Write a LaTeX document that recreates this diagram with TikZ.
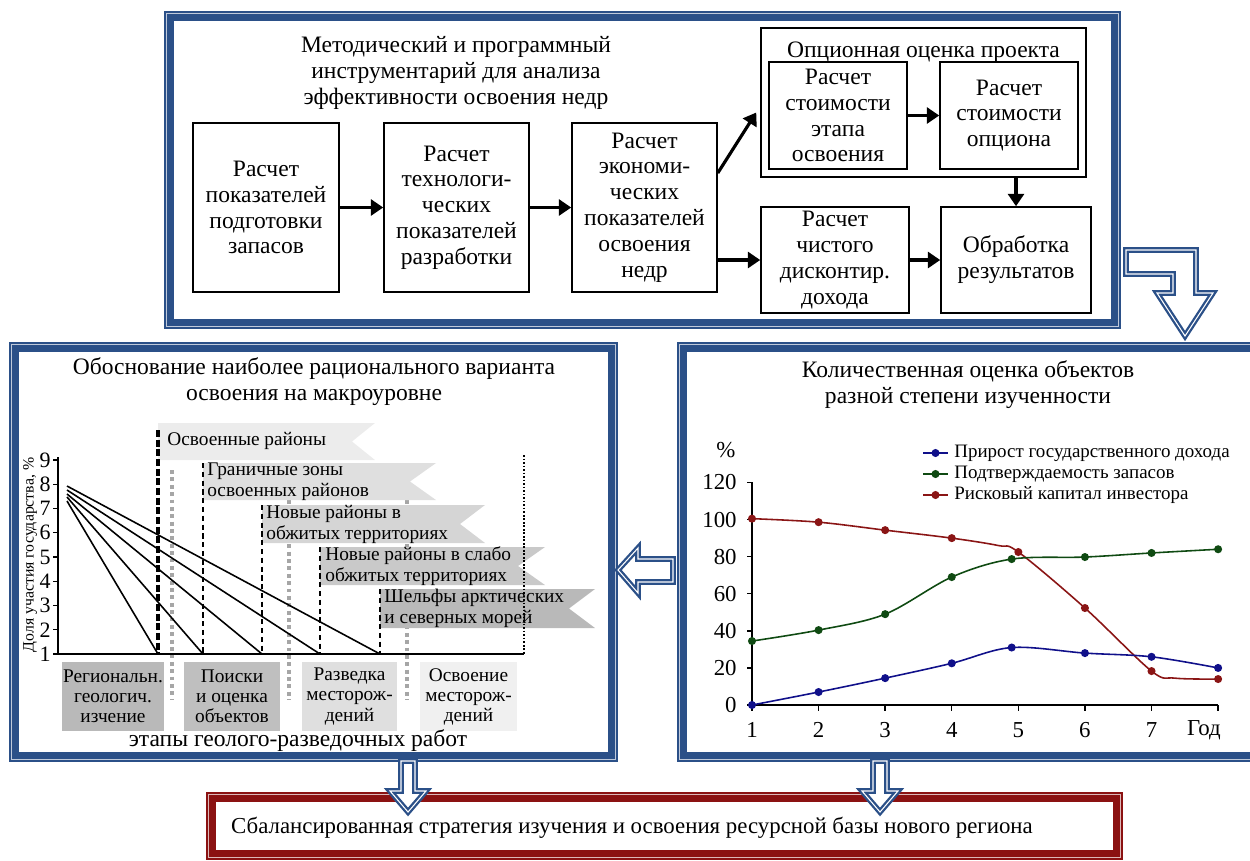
\documentclass[tikz,border=0pt]{standalone}
\usepackage{fontspec}
\setmainfont{Liberation Serif}
\usetikzlibrary{arrows.meta,positioning}
\definecolor{frblue}{HTML}{2B5088}
\definecolor{frred}{HTML}{8B1212}
\definecolor{curblue}{HTML}{10108A}
\definecolor{curgreen}{HTML}{0F4A12}
\definecolor{curred}{HTML}{8A1515}
\tikzset{%
    txt/.style={font=\fontsize{13.4}{14.7}\selectfont, align=center},
    block/.style={%
        rectangle,
        draw,
        line width=0.9pt,
        inner sep=0pt,
        txt
    },
    flow/.style={line width=1.8pt, -{Triangle[length=7pt,width=9pt]}},
    barrow/.style={draw=frblue, fill=white, line width=1.3pt, double=white, double distance=0.6pt},
    flagtext/.style={font=\fontsize{11}{12}\selectfont, align=left, anchor=west, inner sep=0pt},
    stage/.style={%
        font=\fontsize{11}{11.4}\selectfont,
        align=center,
        inner sep=0pt,
        minimum height=1.38cm
    },
    axnum/.style={font=\fontsize{13}{14}\selectfont, inner sep=0pt},
    legtext/.style={font=\fontsize{10.8}{12}\selectfont, anchor=west, inner sep=0pt}
}
\newcommand\panelframe[3]{%
    \draw[#1!30, line width=5pt] ([shift={(4,4)}]#2) rectangle ([shift={(-4,-4)}]#3);
    \draw[#1, line width=0.6pt] (#2) rectangle (#3);
    \draw[#1, line width=2.4pt] ([shift={(4.5,4.5)}]#2) rectangle ([shift={(-4.5,-4.5)}]#3);
    \draw[#1, line width=0.6pt] ([shift={(8,8)}]#2) rectangle ([shift={(-8,-8)}]#3);
}
\begin{document}
\begin{tikzpicture}[x=0.02cm, y=-0.02cm]
\useasboundingbox (0,0) rectangle (1250,860);

% frames
\panelframe{frblue}{165,12}{1120,328}
\panelframe{frblue}{10,343}{617,761}
\panelframe{frblue}{678,343}{1264,761}
\panelframe{frred}{207,793}{1122,859}

% top panel
\node[txt] (ttl) at (456,73) {Методический и программный\\инструментарий для анализа\\эффективности освоения недр};
\node[block, minimum width=2.92cm, minimum height=3.38cm] (calcA) at (266,207.5) {Расчет\\показателей\\подготовки\\запасов};
\node[block, minimum width=2.9cm, minimum height=3.38cm] (calcB) at (456.5,207.5) {Расчет\\технологи-\\ческих\\показателей\\разработки};
\node[block, minimum width=2.9cm, minimum height=3.38cm] (calcC) at (644.5,207.5) {Расчет\\экономи-\\ческих\\показателей\\освоения\\недр};
\node[block, minimum width=6.5cm, minimum height=2.98cm] (opt) at (923.5,102.5) {};
\node[txt, anchor=north, yshift=-0.16cm] (optttl) at (opt.north) {Опционная оценка проекта};
\node[block, minimum width=2.76cm, minimum height=2.14cm] (stage) at (838,115.5) {Расчет\\стоимости\\этапа\\освоения};
\node[block, minimum width=2.76cm, minimum height=2.14cm] (option) at (1009,115.5) {Расчет\\стоимости\\опциона};
\node[block, minimum width=2.96cm, minimum height=2.12cm] (npv) at (835,260) {Расчет\\чистого\\дисконтир.\\дохода};
\node[block, minimum width=3.0cm, minimum height=2.12cm] (res) at (1016,260) {Обработка\\результатов};

\draw[flow] (calcA) -- (calcB);
\draw[flow] (calcB) -- (calcC);
\draw[flow] ([yshift=0.69cm]calcC.east) -- ([yshift=-0.2cm,xshift=-0.08cm]opt.west);
\draw[flow] (calcC.east |- npv.west) -- (npv.west);
\draw[flow] (stage) -- (option);
\draw[flow] (res.north |- opt.south) -- (res.north);
\draw[flow] (npv) -- (res);

% block arrows
\draw[barrow] (1126,250) -- (1196,250) -- (1196,293) -- (1213,293) -- (1185,336) -- (1157,293) -- (1173,293) -- (1173,274) -- (1126,274) -- cycle;
\draw[barrow] (618,570) -- (638,548) -- (638,559) -- (673,559) -- (673,582) -- (638,582) -- (638,593) -- cycle;

% left panel
\node[txt] (ltitle) at (314,382) {Обоснование наиболее рационального варианта\\освоения на макроуровне};

% gray separators
\foreach \x/\y in {172/470, 289/500, 407/500}
    \draw[gray!70, line width=2.2pt, dash pattern=on 2.2pt off 2pt] (\x,\y) -- (\x,700);

% flags
\fill[gray!15] (158,423) -- (375,423) -- (352,441.5) -- (375,460) -- (158,460) -- cycle;
\node[flagtext] (flagA) at (167,441) {Освоенные районы};
\fill[gray!25] (203,463) -- (436,463) -- (410,481.5) -- (436,500) -- (203,500) -- cycle;
\node[flagtext] (flagB) at (207,482) {Граничные зоны\\освоенных районов};
\fill[gray!33] (262,505) -- (485,505) -- (460,524) -- (485,543) -- (262,543) -- cycle;
\node[flagtext] (flagC) at (266,524) {Новые районы в\\обжитых территориях};
\fill[gray!42] (320,547) -- (545,547) -- (518,566) -- (545,585) -- (320,585) -- cycle;
\node[flagtext] (flagD) at (325,566) {Новые районы в слабо\\обжитых территориях};
\fill[gray!55] (380,589) -- (595,589) -- (569,608.5) -- (595,628) -- (380,628) -- cycle;
\node[flagtext] (flagE) at (384,608) {Шельфы арктических\\и северных морей};

% stage boxes
\node[stage, fill=gray!55, minimum width=2.04cm] (regio) at (113,696.5) {Региональн.\\геологич.\\изчение};
\node[stage, fill=gray!50, minimum width=1.92cm] (search) at (232,696.5) {Поиски\\и оценка\\объектов};
\node[stage, fill=gray!25, minimum width=1.9cm] (explor) at (349.5,696.5) {Разведка\\месторож-\\дений};
\node[stage, fill=gray!12, minimum width=1.94cm] (devel) at (468.5,696.5) {Освоение\\месторож-\\дений};
\node[txt] (stages) at (298,741) {этапы геолого-разведочных работ};

% dashed borders
\draw[line width=2pt, dash pattern=on 4pt off 1.5pt] (158,430) -- (158,654);
\foreach \x/\y in {203/463, 262/505, 320/547, 380/589}
    \draw[line width=0.8pt, dash pattern=on 3pt off 2pt] (\x,\y) -- (\x,654);
\draw[line width=1.2pt, dash pattern=on 1pt off 1pt] (524,455) -- (524,654);

% fan
\draw[line width=0.9pt] (67,486) -- (380,654);
\draw[line width=0.9pt] (67,490) -- (320,654);
\draw[line width=0.9pt] (67,494) -- (262,654);
\draw[line width=0.9pt] (67,497) -- (203,654);
\draw[line width=0.9pt] (67,501) -- (158,654);

% axes
\draw[line width=1.3pt] (58,457) -- (58,654) -- (524,654);
\foreach \k in {1,...,9} {
    \draw[line width=0.8pt] (58,{654-(\k-1)*24.25}) -- (53,{654-(\k-1)*24.25});
    \node[anchor=east, font=\fontsize{12.5}{13}\selectfont, inner sep=0pt] at (51,{654-(\k-1)*24.25}) {\k};
}
\node[rotate=90, font=\fontsize{9}{10}\selectfont] (ylab) at (30,555) {Доля участия государства, \%};

% right panel
\node[txt] (rtitle) at (968,385) {Количественная оценка объектов\\разной степени изученности};
\node[axnum] (pct) at (726,450) {\%};

\begin{scope}[shift={(685.4,705)}, x=1.332cm, y=0.0371cm]
    \draw[line width=1.1pt] (1,120) -- (1,0) -- (8,0);
    \foreach \v in {0,20,...,120} {
        \draw[line width=0.8pt] (1,\v) -- ++(-0.1cm,0);
        \node[axnum, anchor=east] at ([xshift=-0.3cm]1,\v) {\v};
    }
    \foreach \x in {1,...,8}
        \draw[line width=0.8pt] (\x,0) -- ++(0,-0.12cm);
    \foreach \x in {1,...,7}
        \node[axnum] at ([yshift=-0.5cm]\x,0) {\x};
    \node[axnum, anchor=east] (year) at ([yshift=-0.5cm,xshift=0.06cm]8,0) {Год};

    \draw[curred, line width=0.9pt] plot[smooth, tension=0.55] coordinates {(1,100.5) (2,98.6) (3,94.3) (4,90) (4.7,86) (5,82.5) (6,52.3) (7,18.3) (7.35,14.5) (8,14)};
    \draw[curgreen, line width=0.9pt] plot[smooth, tension=0.55] coordinates {(1,34.5) (2,40.4) (3,49) (4,69) (4.9,78.7) (6,79.8) (7,82) (8,84)};
    \draw[curblue, line width=0.9pt] plot[smooth, tension=0.55] coordinates {(1,0) (2,7) (3,14.5) (4,22.5) (4.9,31) (6,28) (7,26) (8,20)};
    \foreach \p in {(1,100.5), (2,98.6), (3,94.3), (4,90), (5,82.5), (6,52.3), (7,18.3), (8,14)}
        \fill[curred] \p circle (2.3pt);
    \foreach \p in {(1,34.5), (2,40.4), (3,49), (4,69), (4.9,78.7), (6,79.8), (7,82), (8,84)}
        \fill[curgreen] \p circle (2.3pt);
    \foreach \p in {(1,0), (2,7), (3,14.5), (4,22.5), (4.9,31), (6,28), (7,26), (8,20)}
        \fill[curblue] \p circle (2.3pt);
\end{scope}

% legend
\foreach \c/\y/\t in {curblue/453/Прирост государственного дохода, curgreen/474/Подтверждаемость запасов, curred/495/Рисковый капитал инвестора} {
    \draw[\c, line width=0.9pt] (923,\y) -- (948,\y);
    \fill[\c] (935.5,\y) circle (2.3pt);
    \node[legtext] at (954,\y) {\t};
}

% bottom
\node[txt, font=\fontsize{13}{14}\selectfont] (goal) at (632,828) {Сбалансированная стратегия изучения и освоения ресурсной базы нового региона};
\draw[barrow] (401,761) -- (415,761) -- (415,791) -- (426,791) -- (408,812) -- (390,791) -- (401,791) -- cycle;
\draw[barrow] (873,761) -- (887,761) -- (887,791) -- (898,791) -- (880,812) -- (862,791) -- (873,791) -- cycle;
\end{tikzpicture}
\end{document}
